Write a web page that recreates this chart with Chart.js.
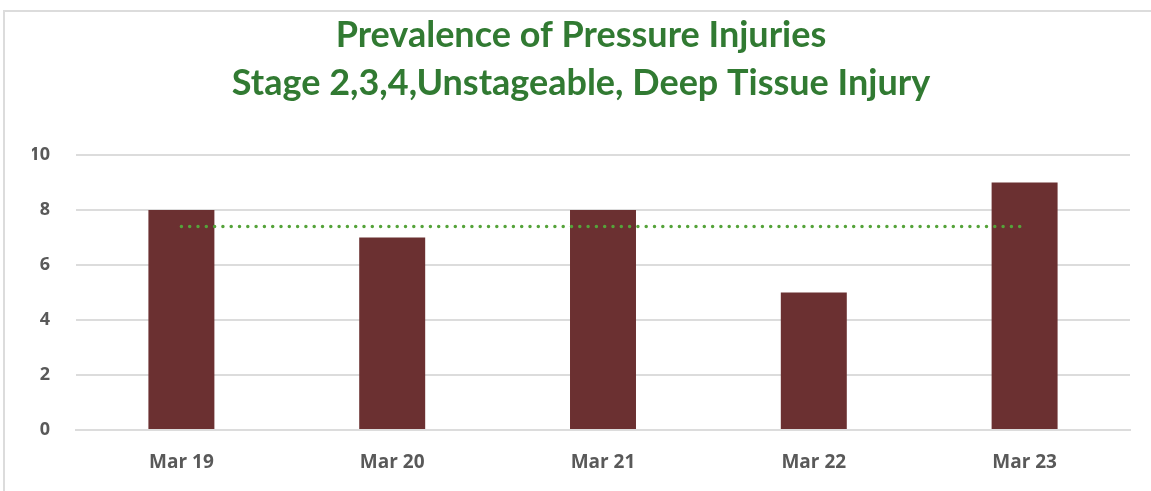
<!DOCTYPE html>
<html>
<head>
<meta charset="utf-8">
<script src="https://cdn.jsdelivr.net/npm/chart.js@4.4.0/dist/chart.umd.min.js"></script>
<style>
    body { margin: 0; background: #ffffff; overflow: hidden; }
    #wrap { position: relative; width: 1151px; height: 491px; }
    #frame { position: absolute; left: 3px; top: 10px; width: 1300px; height: 600px; border: 2px solid #dcdcdc; }
    canvas { position: absolute; left: 0; top: 0; }
</style>
</head>
<body>
<div id="wrap">
    <div id="frame"></div>
    <canvas id="myBarChart" width="1151" height="491"></canvas>
</div>
<script>
// categories and values
const months = ['Mar 19', 'Mar 20', 'Mar 21', 'Mar 22', 'Mar 23'];
const injuries = [8, 7, 8, 5, 9];
const average = [7.4, 7.4, 7.4, 7.4, 7.4];
const titleLines = ['Prevalence of Pressure Injuries', 'Stage 2,3,4,Unstageable, Deep Tissue Injury'];

const ctx = document.getElementById('myBarChart').getContext('2d');

new Chart(ctx, {
    type: 'bar',
    data: {
        labels: months,
        datasets: [
            {
                type: 'line',
                label: 'Average',
                data: average,
                borderColor: '#55a33a',
                borderWidth: 3.5,
                borderDash: [0, 8.3],
                borderCapStyle: 'round',
                pointRadius: 0,
                fill: false,
                order: 0
            },
            {
                label: 'Injuries',
                data: injuries,
                backgroundColor: '#6b3031',
                borderWidth: 0,
                barPercentage: 0.313,
                categoryPercentage: 1,
                order: 1
            }
        ]
    },
    options: {
        responsive: false,
        animation: false,
        // left padding shifts the title centre to match
        layout: { padding: { left: 32, right: 21, top: 0, bottom: 0 } },
        plugins: {
            legend: { display: false },
            tooltip: { enabled: false },
            title: {
                display: true,
                text: titleLines,
                color: '#317a32',
                font: { family: 'Lato', size: 36, weight: 'bold', lineHeight: 1.32 },
                padding: { top: 12, bottom: 48 }
            }
        },
        scales: {
            x: {
                grid: { display: false, drawTicks: false },
                border: { display: true, color: '#dcdcdc', width: 2 },
                ticks: {
                    color: '#595959',
                    font: { family: 'Open Sans', size: 19, weight: 'bold' },
                    padding: 21
                },
                afterFit: (scale) => { scale.height = 61; }
            },
            y: {
                min: 0,
                max: 10,
                ticks: {
                    stepSize: 2,
                    color: '#595959',
                    font: { family: 'Open Sans', size: 18, weight: 'bold' },
                    padding: 26
                },
                grid: { color: '#dcdcdc', lineWidth: 2, drawTicks: false },
                border: { display: false },
                afterFit: (scale) => { scale.width = 44; }
            }
        }
    }
});
</script>
</body>
</html>
